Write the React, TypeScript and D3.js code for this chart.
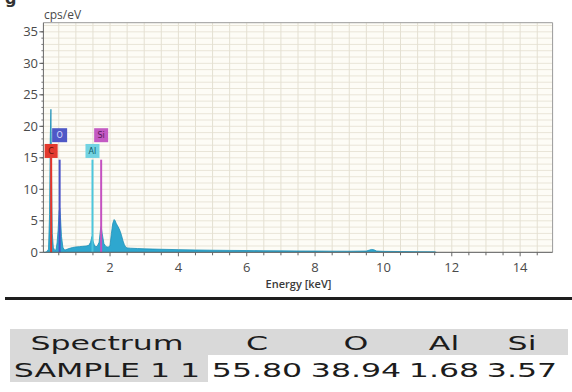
import React from 'react';
import * as d3 from 'd3';

// EDS spectrum (keV, cps/eV)
const spectrumEnergy = [
  0.05, 0.1, 0.15, 0.2, 0.23, 0.25, 0.27, 0.29, 0.31, 0.34, 0.38, 0.42, 0.45, 0.48, 0.51, 0.53,
  0.55, 0.58, 0.62, 0.66, 0.7, 0.8, 0.9, 1.0, 1.1, 1.2, 1.3, 1.38, 1.43, 1.47, 1.5, 1.55, 1.62,
  1.68, 1.72, 1.74, 1.77, 1.82, 1.88, 1.95, 2.0, 2.04, 2.08, 2.12, 2.15, 2.18, 2.22, 2.26, 2.3,
  2.34, 2.38, 2.42, 2.46, 2.5, 2.6, 2.8, 3.0, 3.5, 4.0, 4.5, 5.0, 5.5, 6.0, 6.5, 7.0, 7.5, 8.0,
  8.5, 9.0, 9.5, 9.65, 9.72, 9.8, 10.0, 10.5, 11.0, 11.5, 11.55,
];
const spectrumCps = [
  0, 0, 0.1, 0.5, 6, 18, 22.7, 12, 3, 0.8, 0.3, 0.4, 1.5, 3.5, 6.5, 7.0,
  5.5, 2.5, 0.8, 0.4, 0.4, 0.6, 0.75, 0.85, 0.9, 0.95, 1.0, 1.1, 1.6, 2.5, 1.8, 1.0, 0.9,
  1.6, 3.6, 4.1, 3.0, 1.4, 0.9, 0.8, 1.1, 3.0, 4.6, 5.2, 5.0, 4.6, 4.2, 3.8, 3.3,
  2.6, 1.8, 1.2, 0.8, 0.7, 0.65, 0.6, 0.55, 0.48, 0.42, 0.37, 0.33, 0.3, 0.28, 0.25, 0.23, 0.21, 0.2,
  0.18, 0.17, 0.2, 0.45, 0.4, 0.2, 0.15, 0.12, 0.1, 0.08, 0,
];

// element lines
const elementSymbols = ['C', 'O', 'Al', 'Si'];
const elementEnergies = [0.277, 0.525, 1.486, 1.74];
const elementWeights = [55.8, 38.94, 1.68, 3.57];

const xTickLabels = [2, 4, 6, 8, 10, 12, 14];
const yTickLabels = [0, 5, 10, 15, 20, 25, 30, 35];
const sampleName = 'SAMPLE 1 1';

const W = 572;
const H = 392;

const lineStyle: Record<string, { fill: string; text: string; line: string; row: number; w: number }> = {
  C: { fill: '#e23a2e', text: '#5c1008', line: '#e8342a', row: 0, w: 13 },
  O: { fill: '#4f58c6', text: '#d6daff', line: '#4a52c8', row: 1, w: 15 },
  Al: { fill: '#72d3e2', text: '#0f5964', line: '#4cc6dc', row: 0, w: 14 },
  Si: { fill: '#c35ac3', text: '#5a185a', line: '#c451c0', row: 1, w: 14 },
};

const App: React.FC = () => {
  const x = d3.scaleLinear().domain([0.05, 14.95]).range([43.4, 552.6]);
  const y = d3.scaleLinear().domain([0, 36.45]).range([252.3, 22.7]);
  const [x0, x1] = x.range();
  const [yb, yt] = y.range();

  const points = spectrumEnergy.map((e, i) => [e, spectrumCps[i]] as [number, number]);
  const area = d3
    .area<[number, number]>()
    .x(d => x(d[0]))
    .y0(y(0))
    .y1(d => y(d[1]));
  const line = d3
    .line<[number, number]>()
    .x(d => x(d[0]))
    .y(d => y(d[1]));

  const vGrid = d3.range(0.5, 15, 0.5);
  const hGrid = d3.range(1, 37, 1);
  const xMinor = d3.range(0.5, 15, 0.5);
  const yMinor = d3.range(1, 36, 1);

  const sx = 1.58;
  const colCenters = [107, 257, 356, 444, 522];
  const tableFont = { fontFamily: 'DejaVu Sans, Verdana, sans-serif', fontSize: 20, fill: '#1c1c1c' };
  const headers = ['Spectrum', ...elementSymbols];
  const values = [sampleName, ...elementWeights.map(v => v.toFixed(2))];

  return (
    <svg
      width={W}
      height={H}
      viewBox={`0 0 ${W} ${H}`}
      style={{ position: 'absolute', left: 0, top: 0, background: '#fff' }}
    >
      <rect x={0} y={0} width={W} height={H} fill="#fff" />
      <text x={5} y={4} fontFamily="DejaVu Sans, sans-serif" fontSize={16} fontWeight="bold" fill="#333">
        g
      </text>

      {/* plot background + grid */}
      <rect x={x0} y={yt} width={x1 - x0} height={yb - yt} fill="#fdfcf6" />
      {hGrid.map(v => (
        <line key={'h' + v} x1={x0} x2={x1} y1={y(v)} y2={y(v)} stroke="#e9e5d8" strokeWidth={1} />
      ))}
      {vGrid.map(v => (
        <line key={'v' + v} x1={x(v)} x2={x(v)} y1={yt} y2={yb} stroke="#e4e0d2" strokeWidth={1} />
      ))}
      <line x1={x0} x2={x1} y1={yt} y2={yt} stroke="#9a9a9a" />
      <line x1={x1} x2={x1} y1={yt} y2={yb} stroke="#9a9a9a" />

      {/* spectrum */}
      <path d={area(points) || ''} fill="#2ea7cf" />
      <path d={line(points) || ''} fill="none" stroke="#1d8fb8" strokeWidth={0.8} />

      {/* element markers */}
      {elementSymbols.map((s, i) => {
        const st = lineStyle[s];
        const cx = x(elementEnergies[i]);
        const top = st.row === 0 ? 17.2 : 19.7;
        const lineTop = s === 'C' ? 15 : 14.7;
        return (
          <g key={s}>
            <line x1={cx} x2={cx} y1={y(0)} y2={y(lineTop)} stroke={st.line} strokeWidth={2} />
            <rect x={cx - st.w / 2} y={y(top)} width={st.w} height={14} fill={st.fill} />
            <text
              x={cx}
              y={y(top) + 10}
              textAnchor="middle"
              fontFamily="DejaVu Sans, sans-serif"
              fontSize={8}
              fill={st.text}
            >
              {s}
            </text>
          </g>
        );
      })}

      {/* axes */}
      <line x1={x0} x2={x0} y1={yt} y2={yb} stroke="#666" />
      <line x1={x0} x2={x1} y1={yb} y2={yb} stroke="#555" />
      {yMinor.map(v => (
        <line key={'ym' + v} x1={x0 - 2} x2={x0} y1={y(v)} y2={y(v)} stroke="#777" />
      ))}
      {yTickLabels.map(v => (
        <g key={'y' + v}>
          <line x1={x0 - 4} x2={x0} y1={y(v)} y2={y(v)} stroke="#555" />
          <text
            x={38}
            y={y(v) + 4.5}
            textAnchor="end"
            fontFamily="Open Sans, sans-serif"
            fontSize={13}
            fill="#4a4a4a"
          >
            {v}
          </text>
        </g>
      ))}
      {xMinor.map(v => (
        <line key={'xm' + v} x1={x(v)} x2={x(v)} y1={yb} y2={yb + (v % 2 === 0 ? 4 : 3)} stroke="#666" />
      ))}
      {xTickLabels.map(v => (
        <text
          key={'x' + v}
          x={x(v)}
          y={272}
          textAnchor="middle"
          fontFamily="Open Sans, sans-serif"
          fontSize={13}
          fill="#4a4a4a"
        >
          {v}
        </text>
      ))}
      <text x={44} y={19} fontFamily="Open Sans, sans-serif" fontSize={12} fill="#4a4a4a">
        cps/eV
      </text>
      <text
        x={298.5}
        y={288}
        textAnchor="middle"
        fontFamily="Open Sans, sans-serif"
        fontSize={11}
        fontWeight={600}
        fill="#3a3a3a"
      >
        Energy [keV]
      </text>

      {/* separator */}
      <rect x={5} y={297} width={W - 5} height={3} fill="#1e1e1e" />

      {/* result table */}
      <rect x={10} y={329} width={558} height={26} fill="#d9d9d9" />
      <rect x={10} y={355} width={198} height={27} fill="#d9d9d9" />
      {headers.map((t, i) => (
        <text key={'th' + i} transform={`translate(${colCenters[i]},350) scale(${sx},1)`} textAnchor="middle" {...tableFont}>
          {t}
        </text>
      ))}
      {values.map((t, i) => (
        <text key={'td' + i} transform={`translate(${colCenters[i]},377) scale(${sx},1)`} textAnchor="middle" {...tableFont}>
          {t}
        </text>
      ))}
    </svg>
  );
};

export default App;
